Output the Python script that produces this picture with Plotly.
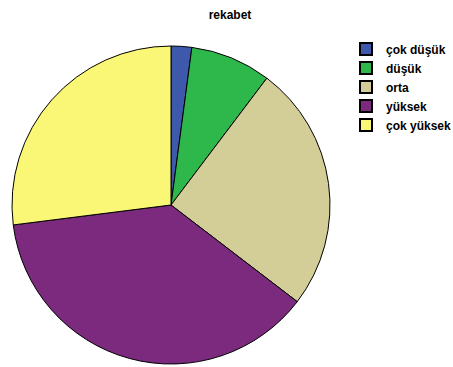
import plotly.graph_objects as go

categories = ["çok düşük", "düşük", "orta", "yüksek", "çok yüksek"]
values = [2.1, 8.2, 25.1, 37.6, 27.0]
colors = ["#3E58AC", "#2EB84B", "#D3CE98", "#7B2A7D", "#FBF776"]

W, H = 453, 367
cx, cy, r = 171, 205, 159

fig = go.Figure(go.Pie(
    labels=categories,
    values=values,
    sort=False,
    direction="clockwise",
    rotation=0,
    textinfo="none",
    hoverinfo="label+percent",
    marker=dict(colors=colors, line=dict(color="#000000", width=1)),
    domain=dict(x=[(cx - r) / W, (cx + r) / W], y=[(H - cy - r) / H, (H - cy + r) / H]),
))

fig.update_layout(
    width=W, height=H,
    margin=dict(l=0, r=0, t=0, b=0, autoexpand=False),
    paper_bgcolor="white",
    plot_bgcolor="white",
    title=dict(text="<b>rekabet</b>", x=230 / W, xanchor="center", y=1 - 15 / H, yanchor="middle",
               font=dict(family="Liberation Sans, Arial", size=12, color="#000000")),
    legend=dict(x=346 / W, xanchor="left", y=1 - 87 / H, yanchor="middle",
                font=dict(family="Liberation Sans, Arial", size=12, color="#000000", weight="bold"),
                itemsizing="constant", tracegroupgap=0,
                bgcolor="rgba(0,0,0,0)"),
)

fig.write_html("out.html")
